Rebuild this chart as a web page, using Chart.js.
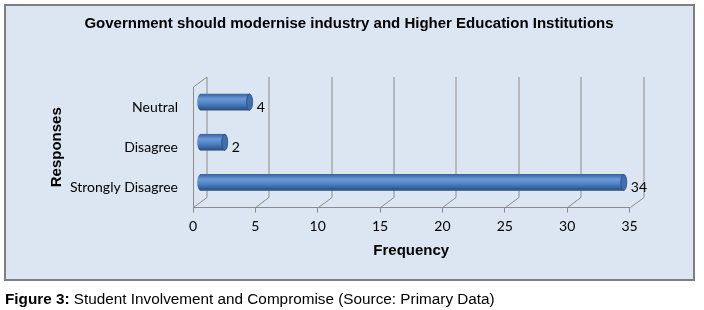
<!DOCTYPE html>
<html>
<head>
<meta charset="utf-8">
<script src="https://cdn.jsdelivr.net/npm/chart.js@4.4.0/dist/chart.umd.min.js"></script>
<style>
  body { margin: 0; background: #fff; width: 704px; height: 310px; position: relative; overflow: hidden; }
  #box { position: absolute; left: 4px; top: 4px; width: 687px; height: 273px; background: #dce6f2; border: 2px solid #7f7f7f; }
  #chart { position: absolute; left: 0; top: 0; }
  #caption { position: absolute; left: 5px; top: 290px; font: 15.3px "Liberation Sans", Arial, sans-serif; color: #000; white-space: nowrap; }
</style>
</head>
<body>
<div id="box"></div>
<canvas id="chart" width="704" height="310"></canvas>
<div id="caption"><b>Figure 3:</b> Student Involvement and Compromise (Source: Primary Data)</div>
<script>
const categories = ['Neutral', 'Disagree', 'Strongly Disagree'];
const frequencies = [4, 2, 34];
const xTicks = [0, 5, 10, 15, 20, 25, 30, 35];

// depth of the fake 3D box
const DX = 13.5;
const DY = -10;
const BAR_H = 16;
const lineColor = '#8c8c8c';

// vertical gradient so the bars look like cylinders
const cylinderFill = (ctx, y, h) => {
    const g = ctx.createLinearGradient(0, y - h / 2, 0, y + h / 2);
    g.addColorStop(0, '#3a65a0');
    g.addColorStop(0.3, '#6a9ad8');
    g.addColorStop(0.6, '#4f81c4');
    g.addColorStop(1, '#2a4e80');
    return g;
};

const line = (ctx, x1, y1, x2, y2) => {
    ctx.beginPath();
    ctx.moveTo(x1, y1);
    ctx.lineTo(x2, y2);
    ctx.stroke();
};

const frame3d = {
    id: 'frame3d',
    beforeDatasetsDraw(chart) {
        const { ctx, chartArea } = chart;
        const xs = chart.scales.x;
        ctx.save();
        ctx.strokeStyle = lineColor;
        ctx.lineWidth = 1;
        xTicks.forEach(v => {
            const px = Math.round(xs.getPixelForValue(v)) + 0.5;
            line(ctx, px + DX, chartArea.top + DY, px + DX, chartArea.bottom + DY);
            line(ctx, px, chartArea.bottom, px + DX, chartArea.bottom + DY);
        });
        const l = Math.round(chartArea.left) + 0.5;
        line(ctx, l, chartArea.top, l, chartArea.bottom);
        line(ctx, l, chartArea.top, l + DX, chartArea.top + DY);
        ctx.restore();

        // bars sit half way into the depth
        ctx.save();
        ctx.translate(DX / 2, DY / 2);
    },
    afterDatasetsDraw(chart) {
        const ctx = chart.ctx;
        const meta = chart.getDatasetMeta(0);
        meta.data.forEach(bar => {
            const { x, y, base } = bar.getProps(['x', 'y', 'base'], true);
            const r = BAR_H / 2;
            // left rounded end
            ctx.beginPath();
            ctx.ellipse(base, y, 3, r, 0, Math.PI / 2, Math.PI * 1.5);
            ctx.fillStyle = cylinderFill(ctx, y, BAR_H);
            ctx.fill();
            // right cap
            ctx.beginPath();
            ctx.ellipse(x, y, 3, r, 0, 0, Math.PI * 2);
            ctx.fillStyle = '#3f6fae';
            ctx.fill();
            ctx.strokeStyle = '#2a4b78';
            ctx.lineWidth = 0.8;
            ctx.stroke();
        });
        ctx.restore();

        // value labels
        ctx.save();
        ctx.font = '14px Lato, sans-serif';
        ctx.fillStyle = '#000';
        ctx.textBaseline = 'middle';
        ctx.textAlign = 'left';
        meta.data.forEach((bar, i) => {
            const { x, y } = bar.getProps(['x', 'y'], true);
            ctx.fillText(String(frequencies[i]), x + DX / 2 + 7, y);
        });
        ctx.restore();
    }
};

new Chart(document.getElementById('chart'), {
    type: 'bar',
    data: {
        labels: categories,
        datasets: [{
            label: 'Frequency',
            data: frequencies,
            yAxisID: 'y',
            barThickness: BAR_H,
            borderWidth: 0,
            clip: false,
            backgroundColor: (c) => {
                const ys = c.chart.scales.y;
                if (!ys || !c.chart.chartArea) return '#4f81bd';
                return cylinderFill(c.chart.ctx, ys.getPixelForValue(c.dataIndex), BAR_H);
            }
        }]
    },
    options: {
        indexAxis: 'y',
        responsive: false,
        animation: false,
        devicePixelRatio: 1,
        layout: { padding: { left: 0, right: 6, top: 0, bottom: 50.5 } },
        plugins: {
            legend: { display: false },
            tooltip: { enabled: false },
            title: {
                display: true,
                text: 'Government should modernise industry and Higher Education Institutions',
                color: '#000',
                font: { family: '"Liberation Sans", Arial, sans-serif', size: 15, weight: 'bold' },
                padding: { top: 14.5, bottom: 54.5 }
            }
        },
        scales: {
            x: {
                min: 0,
                max: 35,
                ticks: {
                    stepSize: 5,
                    padding: 6,
                    color: '#000',
                    font: { family: 'Lato, sans-serif', size: 14 }
                },
                grid: { drawOnChartArea: false, drawTicks: true, tickLength: 5, color: lineColor },
                border: { display: true, color: lineColor, width: 1 },
                title: {
                    display: true,
                    text: 'Frequency',
                    color: '#000',
                    font: { family: '"Liberation Sans", Arial, sans-serif', size: 15, weight: 'bold' },
                    padding: 0
                },
                afterFit: (s) => { s.height = 52; }
            },
            y: {
                position: 'left',
                grid: { display: false, drawTicks: false },
                border: { display: false },
                ticks: {
                    padding: 15,
                    color: '#000',
                    font: { family: 'Lato, sans-serif', size: 14 }
                },
                title: {
                    display: true,
                    text: 'Responses',
                    color: '#000',
                    font: { family: '"Liberation Sans", Arial, sans-serif', size: 15, weight: 'bold' },
                    padding: { top: 48, bottom: 0 }
                },
                afterFit: (s) => { s.width = 193; }
            },
            // empty spacer on the right so the title stays centred on the box
            yR: {
                type: 'linear',
                position: 'right',
                grid: { display: false },
                border: { display: false },
                ticks: { display: false },
                afterFit: (s) => { s.width = 68.5; }
            }
        }
    },
    plugins: [frame3d]
});
</script>
</body>
</html>
